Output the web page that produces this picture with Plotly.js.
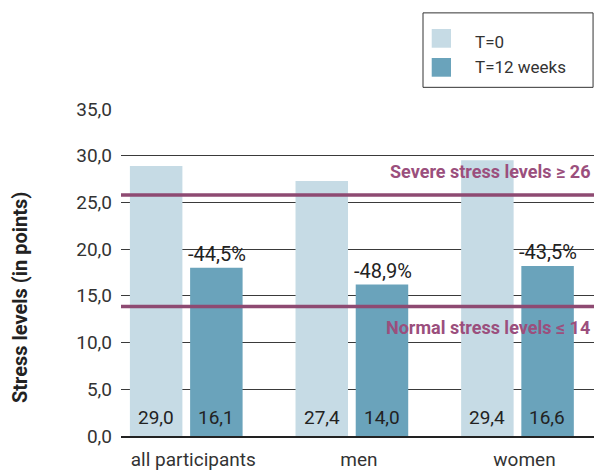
<!DOCTYPE html>
<html>
<head>
<meta charset="utf-8">
<script src="https://cdn.plot.ly/plotly-3.0.1.min.js"></script>
<style>html,body{margin:0;padding:0;background:#fff;}#chart{width:594px;height:472px;}</style>
</head>
<body>
<div id="chart"></div>
<script>
// ---- data ----
const categories = ['all participants', 'men', 'women'];
const seriesNames = ['T=0', 'T=12 weeks'];
const t0Values = [28.9, 27.3, 29.5];
const t12Values = [18.0, 16.2, 18.2];
const t0Labels = ['29,0', '27,4', '29,4'];
const t12Labels = ['16,1', '14,0', '16,6'];
const changeLabels = ['-44,5%', '-48,9%', '-43,5%'];
const severeLevel = 25.8;
const normalLevel = 13.85;
const severeText = 'Severe stress levels ≥ 26';
const normalText = 'Normal stress levels ≤ 14';
const yTickVals = [0, 5, 10, 15, 20, 25, 30, 35];
const yTickText = ['0,0', '5,0', '10,0', '15,0', '20,0', '25,0', '30,0', '35,0'];

// ---- styles ----
const FONT = 'Roboto, "Liberation Sans", sans-serif';
const C_T0 = '#c6dbe5';
const C_T12 = '#6aa3bb';
const C_PURPLE = '#8e4a72';
const C_PTEXT = '#9b4f7d';
const C_TEXT = '#333333';

const traces = [
  {type: 'bar', name: seriesNames[0], x: categories, y: t0Values, marker: {color: C_T0}, hoverinfo: 'none', showlegend: false},
  {type: 'bar', name: seriesNames[1], x: categories, y: t12Values, marker: {color: C_T12}, hoverinfo: 'none', showlegend: false}
];

const annotations = [];
const OFF = 30;
categories.forEach((c, i) => {
  annotations.push({x: c, y: 0, xref: 'x', yref: 'y', xshift: -OFF, yshift: 19, yanchor: 'middle', text: t0Labels[i], showarrow: false, font: {family: FONT, size: 19, color: '#222'}});
  annotations.push({x: c, y: 0, xref: 'x', yref: 'y', xshift: OFF, yshift: 19, yanchor: 'middle', text: t12Labels[i], showarrow: false, font: {family: FONT, size: 19, color: '#222'}});
  annotations.push({x: c, y: t12Values[i], xref: 'x', yref: 'y', xshift: OFF + 1, yshift: 14, yanchor: 'middle', text: changeLabels[i], showarrow: false, font: {family: FONT, size: 20, color: '#222'}});
});
// threshold labels
annotations.push({x: 0.996, y: 0.806, xref: 'paper', yref: 'paper', xanchor: 'right', yanchor: 'middle', text: '<b>' + severeText + '</b>', showarrow: false, font: {family: FONT, size: 18, color: C_PTEXT}});
annotations.push({x: 0.996, y: 0.332, xref: 'paper', yref: 'paper', xanchor: 'right', yanchor: 'middle', text: '<b>' + normalText + '</b>', showarrow: false, font: {family: FONT, size: 18, color: C_PTEXT}});
// y-axis title
annotations.push({x: -0.2135, y: 0.4207, xref: 'paper', yref: 'paper', xanchor: 'center', yanchor: 'middle', textangle: -90, text: '<b>Stress levels (in points)</b>', showarrow: false, font: {family: FONT, size: 20, color: '#222'}});
// custom legend text
annotations.push({x: 0.7436, y: 1.2027, xref: 'paper', yref: 'paper', xanchor: 'left', yanchor: 'middle', text: seriesNames[0], showarrow: false, font: {family: FONT, size: 17, color: C_TEXT}});
annotations.push({x: 0.7436, y: 1.1259, xref: 'paper', yref: 'paper', xanchor: 'left', yanchor: 'middle', text: seriesNames[1], showarrow: false, font: {family: FONT, size: 17, color: C_TEXT}});

const shapes = [
  {type: 'line', xref: 'paper', yref: 'y', x0: 0, x1: 1, y0: severeLevel, y1: severeLevel, line: {color: C_PURPLE, width: 3.5}, layer: 'above'},
  {type: 'line', xref: 'paper', yref: 'y', x0: 0, x1: 1, y0: normalLevel, y1: normalLevel, line: {color: C_PURPLE, width: 3.5}, layer: 'above'},
  // legend box
  {type: 'rect', xref: 'paper', yref: 'paper', x0: 0.6385, x1: 0.998, y0: 1.063, y1: 1.29, line: {color: '#333', width: 1}, fillcolor: 'rgba(0,0,0,0)'},
  {type: 'rect', xref: 'paper', yref: 'paper', x0: 0.6569, x1: 0.6977, y0: 1.1838, y1: 1.2409, line: {width: 0}, fillcolor: C_T0},
  {type: 'rect', xref: 'paper', yref: 'paper', x0: 0.6569, x1: 0.6977, y0: 1.0954, y1: 1.1524, line: {width: 0}, fillcolor: C_T12}
];

const layout = {
  width: 594, height: 472,
  margin: {l: 121, r: 0, t: 108, b: 36, pad: 0},
  paper_bgcolor: '#fff', plot_bgcolor: '#fff',
  barmode: 'group', bargap: 0.273, bargroupgap: 0.128,
  showlegend: false,
  font: {family: FONT, color: C_TEXT},
  xaxis: {
    type: 'category', range: [-0.394, 2.462], fixedrange: true,
    showgrid: false, zeroline: false,
    showline: true, linecolor: '#222', linewidth: 2,
    ticks: '', tickfont: {family: FONT, size: 19, color: C_TEXT},
    ticklabelshift: 7, ticklabelstandoff: 5
  },
  yaxis: {
    range: [0, 35.1], fixedrange: true,
    tickvals: yTickVals, ticktext: yTickText,
    showgrid: true, gridcolor: '#3a3a3a', gridwidth: 1,
    zeroline: false, showline: false, ticks: '',
    tickfont: {family: FONT, size: 19, color: C_TEXT},
    ticklabelstandoff: 8
  },
  annotations: annotations,
  shapes: shapes
};

Plotly.newPlot('chart', traces, layout, {displayModeBar: false, staticPlot: true});
</script>
</body>
</html>
